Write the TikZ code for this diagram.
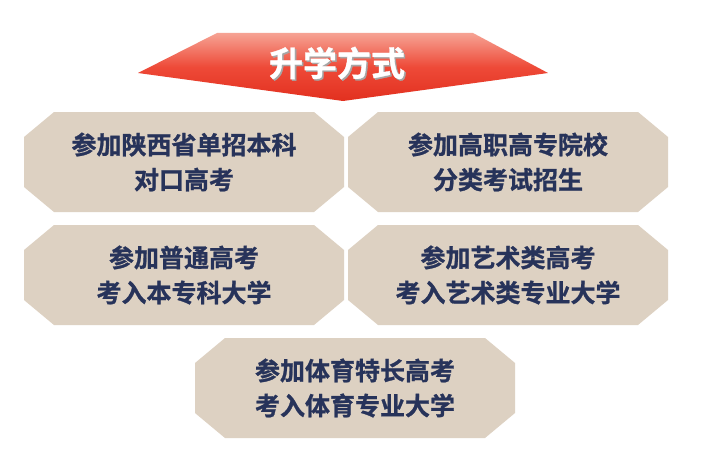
\documentclass[tikz,border=0pt]{standalone}
\usepackage{fontspec}
\newfontfamily\cjk{Noto Sans CJK SC}[BoldFont={Noto Sans CJK SC Bold},BoldFeatures={FakeBold=1.0}]
\definecolor{boxfill}{HTML}{DDD1C2}
\definecolor{boxtext}{HTML}{27335A}
\definecolor{bannertop}{HTML}{F6A394}
\definecolor{bannermid}{HTML}{EE4A38}
\definecolor{bannerbot}{HTML}{E2301F}
\begin{document}
\begin{tikzpicture}[x=1pt,y=-1pt,
  boxtxt/.style={text=boxtext,font=\cjk\bfseries\fontsize{25}{35}\selectfont,align=center},
  titletxt/.style={text=white,font=\cjk\bfseries\fontsize{34}{40}\selectfont}]
\useasboundingbox (0,0) rectangle (711,460);
\fill[white] (0,0) rectangle (711,460);
% banner
\shade[top color=bannertop, bottom color=bannerbot, middle color=bannermid]
  (138,73) -- (217,33) -- (473,33) -- (548,73) -- (343,101) -- cycle;
\node[text=black!35,font=\cjk\bfseries\fontsize{34}{40}\selectfont] at (338.5,64.5) {升学方式};
\node[titletxt] (title) at (337,63) {升学方式};
\newcommand\chambox[4]{%
  \fill[boxfill] ({#2-160},{#3-25}) -- ({#2-130},{#3-50}) -- ({#2+130},{#3-50}) -- ({#2+160},{#3-25})
    -- ({#2+160},{#3+25}) -- ({#2+130},{#3+50}) -- ({#2-130},{#3+50}) -- ({#2-160},{#3+25}) -- cycle;
  \node[boxtxt] (#1) at (#2,#3) {#4};}
\chambox{b1}{184}{162}{参加陕西省单招本科\\对口高考}
\chambox{b2}{508}{162}{参加高职高专院校\\分类考试招生}
\chambox{b3}{184}{275}{参加普通高考\\考入本专科大学}
\chambox{b4}{508}{275}{参加艺术类高考\\考入艺术类专业大学}
\chambox{b5}{355}{388}{参加体育特长高考\\考入体育专业大学}
\end{tikzpicture}
\end{document}
